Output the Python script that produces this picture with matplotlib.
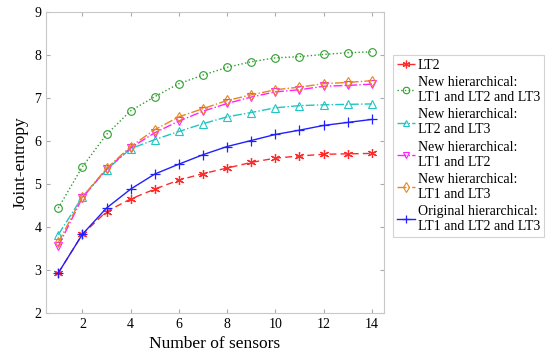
import matplotlib.pyplot as plt
import numpy as np

plt.rcParams['font.family'] = ['Liberation Serif', 'DejaVu Serif']

# number of sensors
sensors = np.arange(1, 15)

# joint-entropy values
lt2 = [2.93, 3.83, 4.36, 4.65, 4.88, 5.09, 5.24, 5.37, 5.50, 5.60, 5.65, 5.69, 5.70, 5.71]
new_123 = [4.44, 5.40, 6.15, 6.70, 7.03, 7.33, 7.53, 7.71, 7.84, 7.93, 7.96, 8.01, 8.05, 8.07]
new_23 = [3.82, 4.70, 5.33, 5.82, 6.03, 6.22, 6.40, 6.56, 6.66, 6.77, 6.82, 6.84, 6.85, 6.86]
new_12 = [3.55, 4.68, 5.34, 5.84, 6.19, 6.46, 6.69, 6.87, 7.02, 7.14, 7.19, 7.27, 7.29, 7.32]
new_13 = [3.64, 4.70, 5.36, 5.87, 6.26, 6.56, 6.75, 6.94, 7.07, 7.19, 7.25, 7.33, 7.36, 7.40]
orig_123 = [2.93, 3.83, 4.44, 4.88, 5.23, 5.46, 5.68, 5.87, 6.01, 6.15, 6.25, 6.36, 6.43, 6.50]

labels = ['LT2',
          'New hierarchical:\nLT1 and LT2 and LT3',
          'New hierarchical:\nLT2 and LT3',
          'New hierarchical:\nLT1 and LT2',
          'New hierarchical:\nLT1 and LT3',
          'Original hierarchical:\nLT1 and LT2 and LT3']

fig = plt.figure(figsize=(5.5, 3.59), dpi=100)
ax = fig.add_axes([0.084, 0.128, 0.614, 0.839])

# matlab-like asterisk marker
star = (6, 2, 0)
ax.plot(sensors, lt2, color='#ff2a2a', ls=(0, (5, 3)), lw=1, marker=star, ms=6.5,
        mew=0.9, label=labels[0])
ax.plot(sensors, new_123, color='#2e9e2e', ls=':', lw=1, marker='o', ms=5.5,
        mfc='none', mew=0.8, label=labels[1])
ax.plot(sensors, new_23, color='#22c4c4', ls='-.', lw=1, marker='^', ms=5.5,
        mfc='none', mew=0.8, label=labels[2])
ax.plot(sensors, new_12, color='#ff22ff', ls='-.', lw=1, marker='v', ms=5.5,
        mfc='none', mew=0.8, label=labels[3])
ax.plot(sensors, new_13, color='#e8861e', ls='-.', lw=1, marker='d', ms=5.5,
        mfc='none', mew=0.8, label=labels[4])
ax.plot(sensors, orig_123, color='#2020ff', ls='-', lw=1, marker='+', ms=7,
        mew=0.9, label=labels[5])

ax.set_xlim(0.5, 14.5)
ax.set_ylim(2, 9)
ax.set_xticks(range(2, 15, 2))
ax.set_yticks(range(2, 10))
ax.tick_params(direction='in', top=True, right=True, color='#aaaaaa',
               labelsize=10, length=3)
for s in ax.spines.values():
    s.set_color('#c8c8c8')

ax.set_xlabel('Number of sensors', fontsize=12.5)
ax.set_ylabel('Joint-entropy', fontsize=12.5)

leg = fig.legend(loc='upper left', bbox_to_anchor=(0.7145, 0.847), fontsize=10,
                 frameon=True, fancybox=False, labelspacing=0.3,
                 handlelength=1.25, handletextpad=0.25, borderpad=0.3,
                 borderaxespad=0, markerscale=0.85)
leg.get_frame().set_edgecolor('#c8c8c8')
leg.get_frame().set_linewidth(0.8)

fig.savefig('out.png', dpi=100)
